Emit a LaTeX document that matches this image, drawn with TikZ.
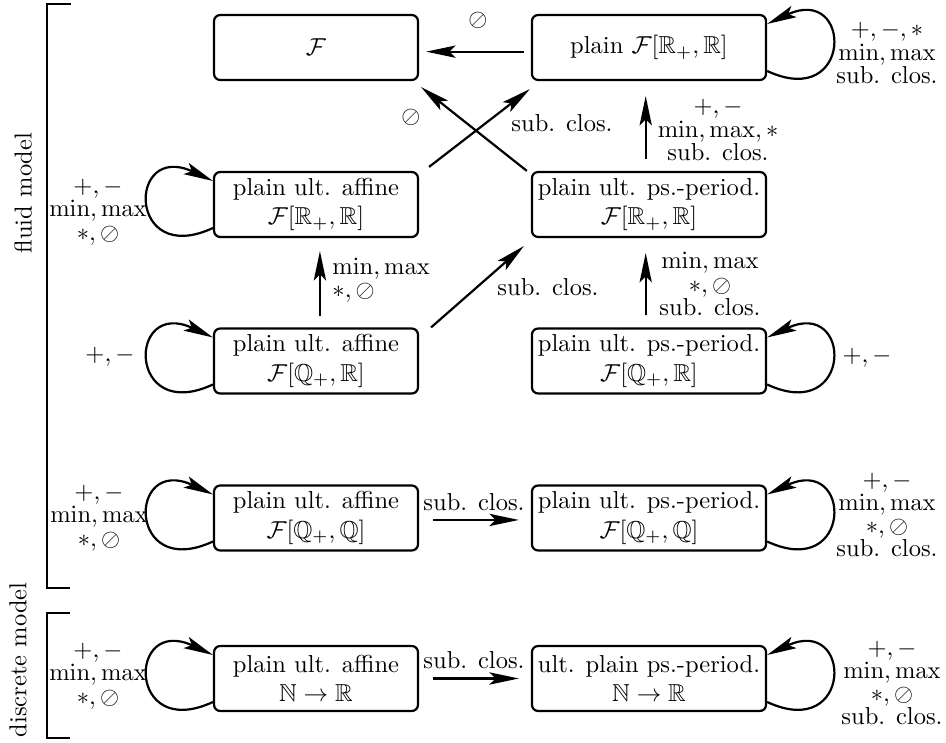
\documentclass[tikz,border=0pt]{standalone}
\usepackage{amsmath,amssymb}
\usetikzlibrary{arrows.meta,calc}
\begin{document}
\begin{tikzpicture}[x=0.408pt,y=-0.408pt,
  box/.style={draw,line width=0.9pt,rounded corners=2.5pt,minimum height=26.5pt,align=center,inner sep=2pt},
  lbox/.style={box,minimum width=83.2pt},
  rbox/.style={box,minimum width=95.5pt},
  arr/.style={line width=0.9pt,-{Stealth[length=12pt,width=5pt,inset=2.5pt]}},
  lab/.style={align=center,inner sep=0pt,font=\fontsize{10}{9.5}\selectfont},
  brk/.style={line width=0.9pt}]
\useasboundingbox (0,0) rectangle (946,743);
% boxes
\node[lbox] (F) at (316,47.5) {$\mathcal{F}$};
\node[rbox] (P) at (649,47.5) {plain $\mathcal{F}[\mathbb{R}_+,\mathbb{R}]$};
\node[lbox] (L2) at (316,204.5) {plain ult. affine\\$\mathcal{F}[\mathbb{R}_+,\mathbb{R}]$};
\node[rbox] (R2) at (649,204.5) {plain ult. ps.-period.\\$\mathcal{F}[\mathbb{R}_+,\mathbb{R}]$};
\node[lbox] (L3) at (316,361) {plain ult. affine\\$\mathcal{F}[\mathbb{Q}_+,\mathbb{R}]$};
\node[rbox] (R3) at (649,361) {plain ult. ps.-period.\\$\mathcal{F}[\mathbb{Q}_+,\mathbb{R}]$};
\node[lbox] (L4) at (316,518) {plain ult. affine\\$\mathcal{F}[\mathbb{Q}_+,\mathbb{Q}]$};
\node[rbox] (R4) at (649,518) {plain ult. ps.-period.\\$\mathcal{F}[\mathbb{Q}_+,\mathbb{Q}]$};
\node[lbox] (L5) at (316,678.5) {plain ult. affine\\$\mathbb{N}\to\mathbb{R}$};
\node[rbox] (R5) at (649,678.5) {ult. plain ps.-period.\\$\mathbb{N}\to\mathbb{R}$};
% straight arrows
\draw[arr,shorten <=2.9pt,shorten >=2.9pt] ([yshift=-1.7pt]P.west) -- ([yshift=-1.7pt]F.east);
\draw[arr] ([shift={(10,-4)}]L2.north east) -- ([shift={(-1,8)}]P.south west);
\draw[arr] ([shift={(-4,0)}]R2.north west) -- ([shift={(2,6)}]F.south east);
\draw[arr] ([shift={(12,0)}]L3.north east) -- ([shift={(-7,8)}]R2.south west);
\draw[arr,shorten <=4.5pt,shorten >=5.3pt] ([xshift=1.6pt]L3.north) -- ([xshift=1.6pt]L2.south);
\draw[arr,shorten <=4.9pt,shorten >=6.1pt] ([xshift=-1.35pt]R2.north) -- ([xshift=-1.35pt]P.south);
\draw[arr,shorten <=4.9pt,shorten >=6.1pt] ([xshift=-1.35pt]R3.north) -- ([xshift=-1.35pt]R2.south);
\draw[arr,shorten <=5.7pt,shorten >=4.9pt] ([yshift=-0.8pt]L4.east) -- ([yshift=-0.8pt]R4.west);
\draw[arr,shorten <=5.7pt,shorten >=4.9pt] (L5.east) -- (R5.west);
% loops
\foreach \n in {L2,L3,L4,L5}{
  \draw[arr] ($(\n.west)+(0,23.5)$) .. controls +(-86,40) and +(-86,-40) .. ($(\n.west)+(0,-23.5)$);
}
\foreach \n in {P,R3,R4,R5}{
  \draw[arr] ($(\n.east)+(0,23.5)$) .. controls +(86,40) and +(86,-40) .. ($(\n.east)+(0,-23.5)$);
}
% labels
\node[lab] (a1) at (478,20) {$\oslash$};
\node[lab] (a2) at (411,117) {$\oslash$};
\node[lab] (a3) at (562,123) {sub. clos.};
\node[lab] (a4) at (718,130) {$+,-$\\$\min,\max,*$\\sub. clos.};
\node[lab] (a5) at (887,53) {$+,-,*$\\$\min,\max$\\sub. clos.};
\node[lab] (a6) at (98,212) {$+,-$\\$\min,\max$\\$*,\oslash$};
\node[lab,align=left,anchor=west] (a7) at (332,280) {$\min,\max$\\$*,\oslash$};
\node[lab] (a8) at (710,284) {$\min,\max$\\$*,\oslash$\\sub. clos.};
\node[lab] (a9) at (548,287) {sub. clos.};
\node[lab] (a10) at (110,357) {$+,-$};
\node[lab] (a11) at (867,358) {$+,-$};
\node[lab] (a12) at (99,518) {$+,-$\\$\min,\max$\\$*,\oslash$};
\node[lab] (a13) at (887,515) {$+,-$\\$\min,\max$\\$*,\oslash$\\sub. clos.};
\node[lab] (a14) at (474,502) {sub. clos.};
\node[lab] (a15) at (98,676) {$+,-$\\$\min,\max$\\$*,\oslash$};
\node[lab] (a16) at (892,683) {$+,-$\\$\min,\max$\\$*,\oslash$\\sub. clos.};
\node[lab] (a17) at (474,660) {sub. clos.};
% brackets
\draw[brk] (71,4) -- (47,4) -- (47,588) -- (70,588);
\draw[brk] (70,613) -- (47,613) -- (47,738) -- (70,738);
\node[rotate=90,inner sep=0pt] (fm) at (23,193) {fluid model};
\node[rotate=90,inner sep=0pt] (dm) at (18,660) {discrete model};
\end{tikzpicture}
\end{document}
